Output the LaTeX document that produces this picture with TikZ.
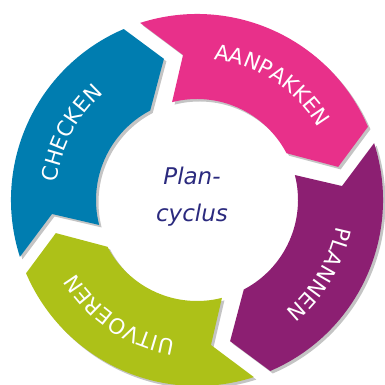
\documentclass[tikz,border=0pt]{standalone}
\usepackage{fontspec}
\usetikzlibrary{decorations.text}
\newfontfamily\dejavu{DejaVu Sans}
\definecolor{cpink}{HTML}{E8308A}
\definecolor{cpurple}{HTML}{8C1F72}
\definecolor{cgreen}{HTML}{ADC118}
\definecolor{cblue}{HTML}{007DB0}
\definecolor{cnavy}{HTML}{2B2A7E}
\definecolor{cshadow}{HTML}{C4C4C4}
\newcommand\lblfont{\dejavu\fontsize{21.3}{21.3}\selectfont}
\tikzset{
  segpath/.style={insert path={(107.8+#1:186) arc[start angle=107.8+#1, end angle=23.2+#1, radius=186]
    -- (13.2+#1:145) -- (27.6+#1:101) arc[start angle=27.6+#1, end angle=104.3+#1, radius=101]
    -- (95.5+#1:145.7) -- cycle}},
  shadowseg/.style={fill=cshadow, shift={(2.5,-2.5)}},
  arclabel/.style={decorate, decoration={text along path, text={|\lblfont|#1}, text align=center, text color=white}},
  titletext/.style={text=cnavy, font=\dejavu\itshape\fontsize{23}{23}\selectfont, inner sep=0pt}
}
\begin{document}
\begin{tikzpicture}[x=1pt,y=1pt]
\useasboundingbox (-197,-185) rectangle (188,200);
% shadows
\path[shadowseg, segpath=0];
\path[shadowseg, segpath=-90];
\path[shadowseg, segpath=-180];
\path[shadowseg, segpath=-270];
% segments
\path[fill=cpink, segpath=0];
\path[fill=cpurple, segpath=-90];
\path[fill=cgreen, segpath=-180];
\path[fill=cblue, segpath=-270];
% labels
\path[arclabel={AANPAKKEN}] (117:141.5) arc[start angle=117, end angle=-3, radius=141.5];
\path[arclabel={PLANNEN}] (29:141.5) arc[start angle=29, end angle=-91, radius=141.5];
\path[arclabel={UITVOEREN}] (-64:141.5) arc[start angle=-64, end angle=-184, radius=141.5];
\path[arclabel={CHECKEN}] (212:141.5) arc[start angle=212, end angle=92, radius=141.5];
% centre title
\node[titletext, anchor=base] (plan) at (-5,15) {Plan-};
\node[titletext, anchor=base] (cyclus) at (-5,-22) {cyclus};
\end{tikzpicture}
\end{document}
